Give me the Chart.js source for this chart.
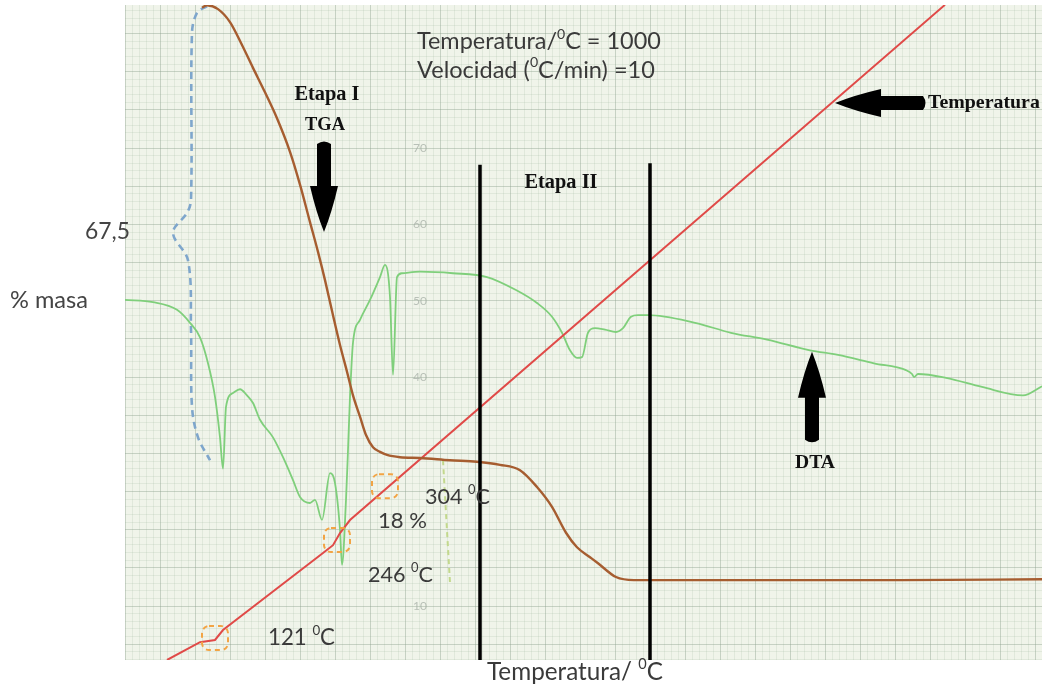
<!DOCTYPE html>
<html>
<head>
<meta charset="utf-8">
<script src="https://cdn.jsdelivr.net/npm/chart.js@4/dist/chart.umd.min.js"></script>
<style>
  html, body { margin: 0; padding: 0; background: #ffffff; }
  canvas { display: block; }
</style>
</head>
<body>
<canvas id="c" width="1042" height="684"></canvas>
<script>
// ---- TGA: % masa frente a temperatura ----
const tgaT    = [107,112,123,135,147,158,170,182,195,205,215,223,230,238,245,252,258,265,271,278,285,292,305,325,355,382,405,425,442,457,471,482,495,503,521,539,605,705,805,947];
const tgaMasa = [88.4,88.7,88.2,86.5,83.5,80.5,77.3,73.9,69.5,65.2,60.3,56.4,52.7,48.1,44.2,40.7,37.6,34.8,32.4,30.8,30.2,29.8,29.5,29.4,29.1,28.9,28.5,27.8,25.6,23.0,19.6,17.7,16.4,15.6,13.8,13.4,13.4,13.4,13.4,13.5];

// ---- DTA ----
const dtaT      = [30,58,82,95,105,113,120,125,128,131,138,145,152,158,165,178,188,198,205,215,220,227,235,240,245,247,251,253,255,258,265,275,285,290,295,298,302,307,325,358,392,421,442,457,467,475,482,487,493,500,510,521,528,536,543,553,600,636,672,715,743,779,811,817,819,823,851,887,928,947];
const dtaSignal = [50.1,49.8,48.8,47.1,45.2,41.8,37.4,32.1,28.0,36.1,37.9,38.4,37.6,36.6,34.4,32.1,29.5,26.5,24.3,23.5,23.9,21.3,27.4,26.1,20.0,15.4,23.9,30.4,37.4,44.5,47.5,50.1,53.1,54.7,50.5,40.3,53.1,53.6,53.8,53.6,53.1,51.4,49.7,47.9,45.8,43.5,42.5,42.6,45.8,46.4,46.2,45.9,46.4,47.9,48.1,48.1,47.1,45.8,44.9,43.5,42.9,41.8,40.9,40.4,40.0,40.4,39.9,38.7,37.6,38.8];

// ---- Programa de temperatura del horno ----
const hornoT    = [72,105,120,128,228,238,245,255,850];
const hornoTemp = [93.4,114,116.5,128,217,226,240,255,850];

// ---- Límites entre etapas ----
const etapaLimiteT    = [385, 555];
const etapaLimiteTope = [67.8, 68.0];

// ---- Llave de la pérdida de masa (67,5) ----
const llaveT    = [112,102,97,96,92,78,93,96,97,103,115];
const llaveMasa = [88.6,87.7,85.1,63.2,61.5,58.9,55.3,46.2,36.1,32.1,29.1];

// ---- Guía de la pérdida del 18 % ----
const guiaT    = [348, 355];
const guiaMasa = [29.1, 13.0];

// ---- Puntos de transición marcados (121, 246, 304 °C) ----
const marcaT    = [120, 242, 290];
const marcaMasa = [5.8, 18.65, 25.7];

// ---- Etiquetas del eje de masa ----
const masaTicks = [10, 40, 50, 60, 70];

const X_MIN = 30, X_MAX = 947, Y_MIN = 2.93, Y_MAX = 88.74;

const SANS  = '"Lato", "DejaVu Sans", sans-serif';
const SERIF = '"Liberation Serif", "DejaVu Serif", serif';

// Textos: partes [texto, superíndice]; w = ancho del rótulo en px
const textos = [
  { parts: [['Temperatura/'], ['0', 1], ['C = 1000']], x: 322, y: 83.9, size: 20, w: 244, fam: SANS, align: 'left', color: '#3a3a3a' },
  { parts: [['Velocidad ('], ['0', 1], ['C/min) =10']], x: 322, y: 80.2, size: 20, w: 238, fam: SANS, align: 'left', color: '#3a3a3a' },
  { parts: [['Etapa I']], x: 232, y: 76.95, size: 18, w: 65, fam: SERIF, bold: true, align: 'center', color: '#111' },
  { parts: [['TGA']], x: 230, y: 73.0, size: 18, w: 40, fam: SERIF, bold: true, align: 'center', color: '#111' },
  { parts: [['Etapa II']], x: 466, y: 65.4, size: 18, w: 73, fam: SERIF, bold: true, align: 'center', color: '#111' },
  { parts: [['Temperatura']], x: 833, y: 75.9, size: 18, w: 112, fam: SERIF, bold: true, align: 'left', color: '#111' },
  { parts: [['DTA']], x: 720, y: 28.7, size: 18, w: 40, fam: SERIF, bold: true, align: 'center', color: '#111' },
  { parts: [['67,5']], x: 35, y: 59.0, size: 19, w: 45, fam: SANS, align: 'right', color: '#444' },
  { parts: [['% masa']], x: -85, y: 50.1, size: 19, w: 78, fam: SANS, align: 'left', color: '#444' },
  { parts: [['304 '], ['0', 1], ['C']], x: 330, y: 24.3, size: 20, w: 65, fam: SANS, align: 'left', color: '#3a3a3a' },
  { parts: [['18 %']], x: 283, y: 21.1, size: 20, w: 49, fam: SANS, align: 'left', color: '#3a3a3a' },
  { parts: [['246 '], ['0', 1], ['C']], x: 273, y: 14.1, size: 20, w: 65, fam: SANS, align: 'left', color: '#3a3a3a' },
  { parts: [['121 '], ['0', 1], ['C']], x: 173, y: 5.8, size: 20, w: 67, fam: SANS, align: 'left', color: '#3a3a3a' },
  { parts: [['Temperatura/ '], ['0', 1], ['C']], x: 392, y: 1.35, size: 20, w: 176, fam: SANS, align: 'left', color: '#3a3a3a' }
];

// Flechas: punta en unidades de datos
const flechas = [
  { dir: 'down',  x: 229, y: 59.0 },
  { dir: 'up',    x: 717, y: 43.3 },
  { dir: 'left',  x: 740, y: 75.9 }
];

const pts = (xs, ys) => xs.map((v, i) => ({ x: v, y: ys[i] }));

function measureParts(ctx, t, size, weight) {
  let w = 0;
  t.parts.forEach(p => {
    ctx.font = weight + (p[1] ? size * 0.6 : size) + 'px ' + t.fam;
    w += ctx.measureText(p[0]).width;
  });
  return w;
}

function drawParts(ctx, t, px, py) {
  const weight = t.bold ? 'bold ' : '';
  let size = t.size;
  if (t.w) size = size * t.w / measureParts(ctx, t, size, weight);
  const w = measureParts(ctx, t, size, weight);
  let cx = t.align === 'center' ? px - w / 2 : (t.align === 'right' ? px - w : px);
  ctx.fillStyle = t.color;
  ctx.textAlign = 'left';
  ctx.textBaseline = 'middle';
  t.parts.forEach(p => {
    ctx.font = weight + (p[1] ? size * 0.6 : size) + 'px ' + t.fam;
    ctx.fillText(p[0], cx, p[1] ? py - size * 0.33 : py);
    cx += ctx.measureText(p[0]).width;
  });
}

function drawArrow(ctx, dir, tx, ty) {
  ctx.save();
  ctx.translate(tx, ty);
  if (dir === 'up') ctx.rotate(Math.PI);
  if (dir === 'left') ctx.rotate(Math.PI / 2);
  // flecha apuntando hacia abajo con la punta en (0,0)
  ctx.beginPath();
  ctx.moveTo(0, 0);
  ctx.quadraticCurveTo(-8, -20, -14, -46);
  ctx.lineTo(-7, -46);
  ctx.lineTo(-7, -88);
  ctx.quadraticCurveTo(0, -93, 7, -88);
  ctx.lineTo(7, -46);
  ctx.lineTo(14, -46);
  ctx.quadraticCurveTo(8, -20, 0, 0);
  ctx.closePath();
  ctx.fillStyle = '#000';
  ctx.fill();
  ctx.restore();
}

const papel = {
  id: 'papel',
  beforeDraw(chart) {
    const { ctx, chartArea: a } = chart;
    ctx.save();
    ctx.fillStyle = '#ffffff';
    ctx.fillRect(0, 0, chart.width, chart.height);
    ctx.fillStyle = '#f0f4ea';
    ctx.fillRect(a.left, a.top, a.right - a.left, a.bottom - a.top);
    ctx.restore();
  },
  beforeDatasetsDraw(chart) {
    const { ctx, scales } = chart;
    ctx.save();
    ctx.font = '12px ' + SANS;
    ctx.fillStyle = 'rgba(165,175,165,0.75)';
    ctx.textAlign = 'center';
    ctx.textBaseline = 'middle';
    masaTicks.forEach(v => ctx.fillText(String(v), scales.x.getPixelForValue(325), scales.y.getPixelForValue(v)));
    ctx.restore();
  },
  afterDatasetsDraw(chart) {
    const { ctx, scales } = chart;
    const X = v => scales.x.getPixelForValue(v);
    const Y = v => scales.y.getPixelForValue(v);
    ctx.save();
    // recuadros discontinuos en las transiciones
    ctx.strokeStyle = '#f2a444';
    ctx.lineWidth = 2;
    ctx.setLineDash([5, 4]);
    marcaT.forEach((t, i) => {
      const cx = X(t), cy = Y(marcaMasa[i]);
      ctx.beginPath();
      ctx.roundRect(cx - 13, cy - 12, 26, 24, 7);
      ctx.stroke();
    });
    ctx.setLineDash([]);
    flechas.forEach(f => drawArrow(ctx, f.dir, X(f.x), Y(f.y)));
    textos.forEach(t => drawParts(ctx, t, X(t.x), Y(t.y)));
    ctx.restore();
  }
};

const lineBase = { pointRadius: 0, fill: false, showLine: true };

new Chart(document.getElementById('c'), {
  type: 'scatter',
  data: {
    datasets: [
      { ...lineBase, label: 'Etapa límite 1', data: [{ x: etapaLimiteT[0], y: etapaLimiteTope[0] }, { x: etapaLimiteT[0], y: Y_MIN - 1 }], borderColor: '#000', borderWidth: 3.5 },
      { ...lineBase, label: 'Etapa límite 2', data: [{ x: etapaLimiteT[1], y: etapaLimiteTope[1] }, { x: etapaLimiteT[1], y: Y_MIN - 1 }], borderColor: '#000', borderWidth: 3.5 },
      { ...lineBase, label: 'TGA', data: pts(tgaT, tgaMasa), borderColor: '#a65d30', borderWidth: 2.4, cubicInterpolationMode: 'monotone' },
      { ...lineBase, label: 'Temperatura', data: pts(hornoT, hornoTemp), yAxisID: 'yT', borderColor: '#e04a48', borderWidth: 2, tension: 0 },
      { ...lineBase, label: 'DTA', data: pts(dtaT, dtaSignal), borderColor: '#7fcf7b', borderWidth: 1.8, cubicInterpolationMode: 'monotone' },
      { ...lineBase, label: '67,5', data: pts(llaveT, llaveMasa), borderColor: '#7ea6cc', borderWidth: 2.6, borderDash: [7, 5], tension: 0.35 },
      { ...lineBase, label: '18 %', data: pts(guiaT, guiaMasa), borderColor: '#c2d88c', borderWidth: 2, borderDash: [5, 4] }
    ]
  },
  options: {
    responsive: false,
    animation: false,
    events: [],
    layout: { padding: { left: 125, right: 0, top: 5, bottom: 24 } },
    plugins: { legend: { display: false }, tooltip: { enabled: false } },
    scales: {
      x: {
        type: 'linear', min: X_MIN, max: X_MAX,
        border: { display: false },
        ticks: { display: false },
        afterBuildTicks(scale) {
          const t = [];
          for (let v = X_MIN; v <= X_MAX; v += 7) t.push({ value: v });
          scale.ticks = t;
        },
        grid: {
          drawTicks: false,
          color: c => ((c.tick.value - X_MIN) % 35 === 0) ? 'rgba(140,160,140,0.42)' : 'rgba(150,170,150,0.17)',
          lineWidth: 1
        }
      },
      y: {
        type: 'linear', min: Y_MIN, max: Y_MAX,
        border: { display: false },
        ticks: { display: false },
        afterBuildTicks(scale) {
          const t = [];
          for (let v = 3; v <= 88; v += 1) t.push({ value: v });
          scale.ticks = t;
        },
        grid: {
          drawTicks: false,
          color: c => (c.tick.value % 5 === 0) ? 'rgba(140,160,140,0.42)' : 'rgba(150,170,150,0.17)',
          lineWidth: 1
        }
      },
      yT: { type: 'linear', display: false, min: 93.4, max: 849.8 }
    }
  },
  plugins: [papel]
});
</script>
</body>
</html>
